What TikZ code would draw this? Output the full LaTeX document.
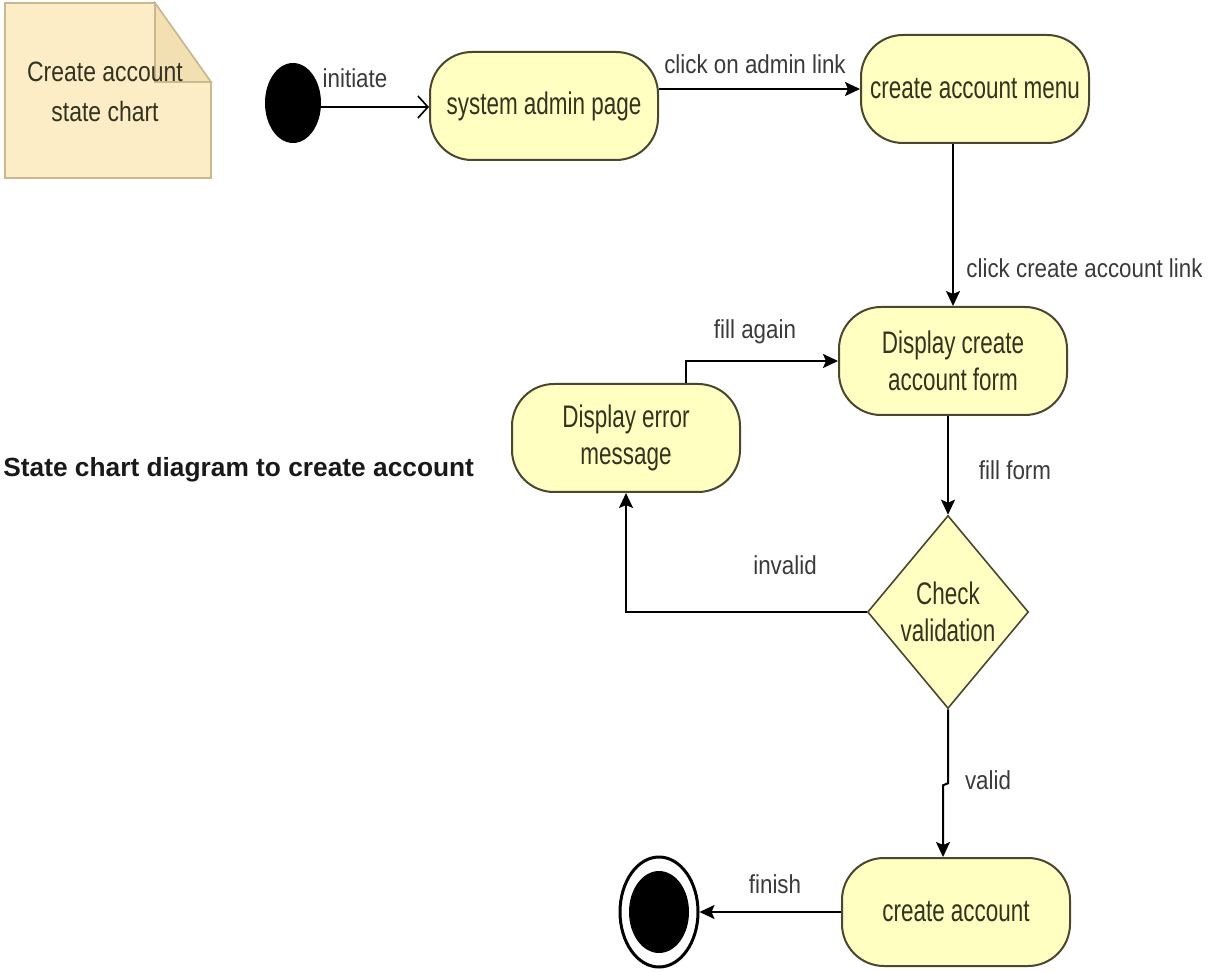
\documentclass[tikz,border=0pt]{standalone}
\usepackage{fontspec}
\setmainfont{Liberation Sans}
\newfontfamily\statefont[FakeStretch=0.72]{Liberation Sans}
\newfontfamily\linkfont[FakeStretch=0.86]{Liberation Sans}
\newfontfamily\notefont[FakeStretch=0.82]{Liberation Sans}
\usetikzlibrary{arrows.meta,shapes.geometric,calc}

\definecolor{statefill}{HTML}{FFFFC2}
\definecolor{stateline}{HTML}{4A4630}
\definecolor{statetext}{HTML}{33331F}
\definecolor{labeltext}{HTML}{3A3A3A}
\definecolor{notefill}{HTML}{FCEDC6}
\definecolor{notefold}{HTML}{F2DFB2}
\definecolor{noteline}{HTML}{C9B98D}

\begin{document}
\begin{tikzpicture}[x=0.5pt,y=-0.5pt,
  state/.style={rectangle, rounded corners=21pt, draw=stateline, line width=1pt,
    fill=statefill, minimum width=114pt, minimum height=54pt, align=center,
    inner sep=2pt, text=statetext, font=\statefont\fontsize{15.6}{18.5}\selectfont},
  decision/.style={diamond, draw=stateline, line width=0.8pt, fill=statefill,
    minimum width=80.5pt, minimum height=96.5pt, inner sep=0pt, align=center,
    text=statetext, font=\statefont\fontsize{15.6}{18.5}\selectfont},
  flow/.style={line width=1pt, draw=black, -{Stealth[length=7.5pt,width=7pt,inset=1.5pt]}},
  openflow/.style={line width=1pt, draw=black, -{Straight Barb[length=5pt,width=11pt,line width=0.8pt]}},
  lbl/.style={font=\linkfont\fontsize{13}{16}\selectfont, text=labeltext, inner sep=0pt}]

\useasboundingbox (0,0) rectangle (1225,972);

% note in the top left corner
\fill[notefill, draw=noteline, line width=0.8pt]
  (5,3) -- (155,3) -- (211,82) -- (211,178) -- (5,178) -- cycle;
\fill[notefold, draw=noteline, line width=0.8pt]
  (155,3) -- (155,82) -- (211,82) -- cycle;
\node[align=center, text=statetext, inner sep=0pt,
  font=\notefont\fontsize{14}{20}\selectfont] (note) at (105,92)
  {Create account\\state chart};

% title
\node[anchor=west, inner sep=0pt, font=\bfseries\fontsize{13.15}{16}\selectfont,
  text=black!90] (title) at (3,470) {State chart diagram to create account};

% initial pseudo-state
\node[ellipse, fill=black, minimum width=28pt, minimum height=40pt, inner sep=0pt]
  (start) at (293,103) {};

% states
\node[state] (sys)  at (544,106) {system admin page};
\node[state] (menu) at (975,89)  {create account menu};
\node[state] (form) at (953,361) {Display create\\account form};
\node[state] (err)  at (626,438) {Display error\\message};
\node[decision] (chk) at (948,612) {Check\\validation};
\node[state] (fin)  at (956,912) {create account};

% final state
\node[ellipse, draw=black, line width=1.5pt, fill=white, minimum width=39pt,
  minimum height=55pt, inner sep=0pt] (end) at (659,912) {};
\node[ellipse, fill=black, minimum width=30pt, minimum height=41pt, inner sep=0pt]
  (endcore) at (end) {};

% transitions
\draw[openflow] (start.east |- 0,107) -- (sys.west |- 0,107);
\node[lbl] (l1) at (355,78) {initiate};

\draw[flow] (sys.east |- menu.west) -- (menu.west);
\node[lbl] (l2) at (755,64) {click on admin link};

\draw[flow] (form.north |- menu.south) -- (form.north);
\node[lbl, anchor=west] (l3) at (966,268) {click create account link};

\draw[flow] ($(err.north)+(60,0)$) |- (form.west);
\node[lbl] (l4) at (755,332) {fill again};

\draw[flow] (chk.north |- form.south) -- (chk.north);
\node[lbl] (l5) at (1015,470) {fill form};

\draw[flow] (chk.west) -| (err.south);
\node[lbl] (l6) at (785,565) {invalid};

\coordinate (vbend) at ($(chk.south)+(0,74)$);
\coordinate (vjog) at ($(chk.south)+(-5,76)$);
\draw[flow] (chk.south) -- (vbend) -- (vjog) -- (vjog |- fin.north);
\node[lbl] (l7) at (988,780) {valid};

\draw[flow] (fin.west) -- (end.east);
\node[lbl] (l8) at (775,884) {finish};

\end{tikzpicture}
\end{document}
